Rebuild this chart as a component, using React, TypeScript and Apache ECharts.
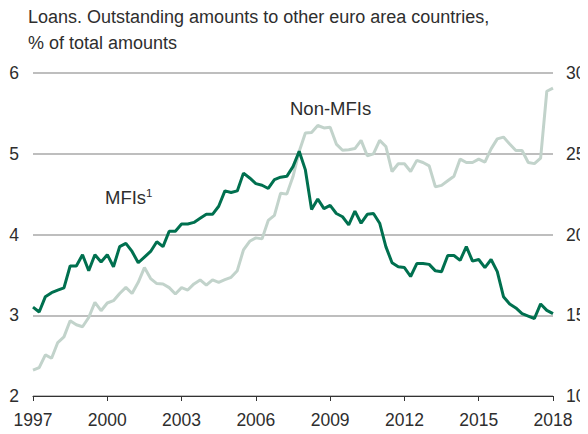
import React, { useEffect, useRef } from "react";
import * as echarts from "echarts";

const startYear = 1997;
const xTicks = [1997, 2000, 2003, 2006, 2009, 2012, 2015, 2018];

// Quarterly values, 1997 Q1 to 2018 Q1, % of total amounts
const mfis = [
  3.10, 3.04, 3.23, 3.28,
  3.31, 3.34, 3.61, 3.61,
  3.75, 3.55, 3.75, 3.66,
  3.75, 3.60, 3.85, 3.89,
  3.79, 3.65, 3.72, 3.79,
  3.91, 3.85, 4.04, 4.04,
  4.13, 4.13, 4.15, 4.20,
  4.25, 4.25, 4.35, 4.54,
  4.52, 4.54, 4.76, 4.70,
  4.63, 4.61, 4.57, 4.68,
  4.71, 4.72, 4.84, 5.03,
  4.80, 4.31, 4.44, 4.32,
  4.36, 4.26, 4.22, 4.12,
  4.29, 4.14, 4.25, 4.26,
  4.14, 3.85, 3.65, 3.60,
  3.59, 3.48, 3.64, 3.64,
  3.63, 3.55, 3.54, 3.74,
  3.74, 3.68, 3.85, 3.67,
  3.69, 3.59, 3.69, 3.54,
  3.23, 3.14, 3.09, 3.02,
  2.99, 2.96, 3.14, 3.06,
  3.02,
];

const nonMfis = [
  11.60, 11.76, 12.55, 12.34,
  13.31, 13.66, 14.66, 14.41,
  14.29, 14.86, 15.80, 15.28,
  15.76, 15.90, 16.35, 16.73,
  16.35, 17.04, 17.95, 17.27,
  16.96, 16.94, 16.71, 16.32,
  16.71, 16.56, 16.94, 17.19,
  16.86, 17.19, 17.04, 17.20,
  17.35, 17.76, 19.05, 19.58,
  19.79, 19.73, 20.87, 21.18,
  22.56, 22.50, 23.59, 25.14,
  26.28, 26.32, 26.75, 26.60,
  26.64, 25.60, 25.22, 25.25,
  25.32, 25.83, 24.88, 24.99,
  25.83, 25.45, 23.90, 24.38,
  24.38, 23.90, 24.59, 24.46,
  24.25, 22.95, 23.04, 23.33,
  23.61, 24.67, 24.46, 24.46,
  24.67, 24.48, 25.30, 25.92,
  26.03, 25.60, 25.20, 25.20,
  24.46, 24.39, 24.73, 28.87,
  29.06,
];

const titleLines = [
  "Loans. Outstanding amounts to other euro area countries,",
  "% of total amounts",
];

const toPairs = (vals: number[]) => vals.map((v, i) => [startYear + i / 4, v]);

const FONT = "Liberation Sans, Arial, sans-serif";
const TEXT = "#2e2e2e";

export default function App() {
  const ref = useRef<HTMLDivElement>(null);
  useEffect(() => {
    if (!ref.current) return;
    const chart = echarts.init(ref.current, null, { renderer: "svg" });
    chart.setOption({
      animation: false,
      textStyle: { fontFamily: FONT },
      grid: {
        left: 33,
        right: 35,
        top: 73,
        bottom: 38,
        containLabel: false,
        outerBoundsMode: "none",
      },
      graphic: [
        {
          type: "text",
          left: 28,
          top: 4,
          style: {
            text: titleLines.join("\n"),
            font: `18px ${FONT}`,
            fill: TEXT,
            lineHeight: 26,
          },
        },
        {
          type: "text",
          left: 105,
          top: 187,
          style: {
            text: "{a|MFIs}{s|1}",
            rich: {
              a: { font: `18.5px ${FONT}`, fill: TEXT, verticalAlign: "bottom" },
              s: { font: `11.5px ${FONT}`, fill: TEXT, verticalAlign: "top", padding: [0, 0, 8, 0] },
            },
          },
        },
        {
          type: "text",
          left: 290,
          top: 99,
          style: {
            text: "Non-MFIs",
            font: `18.5px ${FONT}`,
            fill: TEXT,
          },
        },
      ],
      xAxis: {
        type: "value",
        min: 1997,
        max: 2018,
        interval: 3,
        axisLine: { show: true, lineStyle: { color: "#333", width: 1.2 } },
        axisTick: { show: true, length: 5, lineStyle: { color: "#333" } },
        splitLine: { show: false },
        axisLabel: {
          margin: 15,
          fontSize: 17.5,
          color: TEXT,
          fontFamily: FONT,
          formatter: (v: number) => (xTicks.includes(v) ? String(v) : ""),
        },
      },
      yAxis: [
        {
          type: "value",
          min: 2,
          max: 6,
          interval: 1,
          position: "left",
          axisLine: { show: false },
          axisTick: { show: false },
          splitLine: { show: true, lineStyle: { color: "#a8a8a8", width: 1.5 } },
          axisLabel: { margin: 14, fontSize: 17.5, color: TEXT, fontFamily: FONT },
        },
        {
          type: "value",
          min: 10,
          max: 30,
          interval: 5,
          position: "right",
          axisLine: { show: false },
          axisTick: { show: false },
          splitLine: { show: false },
          axisLabel: { margin: 13, fontSize: 17.5, color: TEXT, fontFamily: FONT },
        },
      ],
      series: [
        {
          name: "Non-MFIs",
          type: "line",
          yAxisIndex: 1,
          data: toPairs(nonMfis),
          showSymbol: false,
          symbol: "none",
          lineStyle: { color: "#c2d3cb", width: 3 },
          z: 2,
        },
        {
          name: "MFIs",
          type: "line",
          yAxisIndex: 0,
          data: toPairs(mfis),
          showSymbol: false,
          symbol: "none",
          lineStyle: { color: "#00704f", width: 3 },
          z: 3,
        },
      ],
    });
    return () => chart.dispose();
  }, []);
  return <div ref={ref} style={{ width: 588, height: 434, margin: -8 }} />;
}
